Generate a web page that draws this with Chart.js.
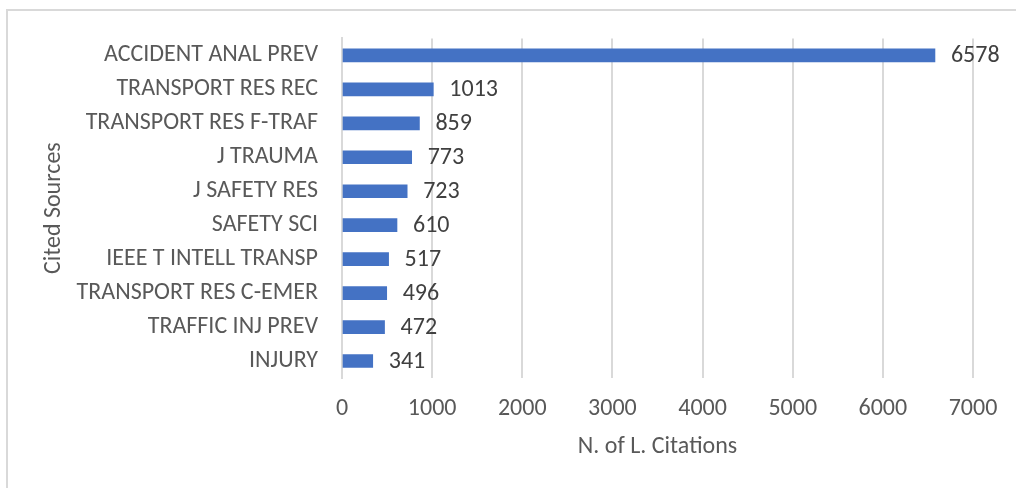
<!DOCTYPE html>
<html>
<head>
<meta charset="utf-8">
<script src="https://cdn.jsdelivr.net/npm/chart.js@4"></script>
<style>
  html, body { margin: 0; padding: 0; background: #fff; overflow: hidden; }
  #frame { position: absolute; left: 6px; top: 9px; width: 1030px; height: 500px; border: 2px solid #d9d9d9; box-sizing: border-box; }
  #wrap { position: absolute; left: 0; top: 0; width: 1016px; height: 488px; }
</style>
</head>
<body>
<div id="frame"></div>
<div id="wrap"><canvas id="citations_graph" width="1016" height="488"></canvas></div>
<script>
// cited sources, top to bottom as in the picture
const sources = [
    'ACCIDENT ANAL PREV',
    'TRANSPORT RES REC',
    'TRANSPORT RES F-TRAF',
    'J TRAUMA',
    'J SAFETY RES',
    'SAFETY SCI',
    'IEEE T INTELL TRANSP',
    'TRANSPORT RES C-EMER',
    'TRAFFIC INJ PREV',
    'INJURY'
];
const citations = [6578, 1013, 859, 773, 723, 610, 517, 496, 472, 341];
const xTicks = [0, 1000, 2000, 3000, 4000, 5000, 6000, 7000];

const fontFamily = 'Carlito, Calibri, "Open Sans", sans-serif';
const fontSize = 24;
const textColor = '#595959';

// writes the value just past the end of each bar
const valueLabels = {
    id: 'valueLabels',
    afterDatasetsDraw(chart) {
        const ctx = chart.ctx;
        const meta = chart.getDatasetMeta(0);
        ctx.save();
        ctx.font = fontSize + 'px ' + fontFamily;
        ctx.fillStyle = '#404040';
        ctx.textBaseline = 'middle';
        ctx.textAlign = 'left';
        meta.data.forEach(function(bar, i) {
            ctx.fillText(String(chart.data.datasets[0].data[i]), bar.x + 16, bar.y + 1);
        });
        ctx.restore();
    }
};

let chart = new Chart(document.getElementById('citations_graph'), {
    type: 'bar',
    data: {
        labels: sources,
        datasets: [{
            label: 'N. of L. Citations',
            data: citations,
            backgroundColor: '#4472C4',
            barThickness: 13
        }]
    },
    options: {
        indexAxis: 'y',
        responsive: false,
        animation: false,
        layout: { padding: { top: 38, right: 43, left: 0, bottom: 0 } },
        plugins: {
            legend: { display: false },
            tooltip: { enabled: false }
        },
        scales: {
            x: {
                min: 0,
                max: 7000,
                afterBuildTicks(scale) {
                    scale.ticks = xTicks.map(v => ({ value: v }));
                },
                afterFit(scale) {
                    scale.height = 110;
                    scale.paddingLeft = 0;
                    scale.paddingRight = 0;
                },
                grid: { color: '#d9d9d9', lineWidth: 2, drawTicks: false },
                border: { display: false },
                ticks: {
                    color: textColor,
                    padding: 17,
                    font: { family: fontFamily, size: fontSize },
                    callback: function(value) { return String(value); }
                },
                title: {
                    display: true,
                    text: 'N. of L. Citations',
                    color: textColor,
                    font: { family: fontFamily, size: fontSize },
                    padding: { top: 0, bottom: 27 }
                }
            },
            y: {
                afterFit(scale) { scale.width = 342; },
                grid: { display: false, drawTicks: false },
                border: { display: true, color: '#d9d9d9', width: 2 },
                ticks: { color: textColor, padding: 24, font: { family: fontFamily, size: fontSize } },
                title: {
                    display: true,
                    text: 'Cited Sources',
                    color: textColor,
                    font: { family: fontFamily, size: fontSize },
                    padding: { top: 40, bottom: 0 }
                }
            }
        }
    },
    plugins: [valueLabels]
});
</script>
</body>
</html>
